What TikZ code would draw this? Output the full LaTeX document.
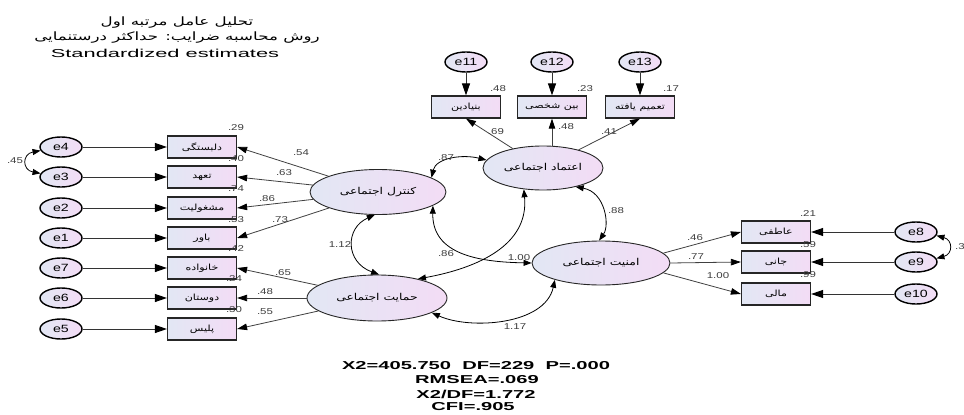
\documentclass[tikz,border=0pt]{standalone}
\usepackage{graphicx}
\usepackage{fontspec}
\setmainfont{Liberation Sans}
\newfontfamily\fafont[Script=Arabic]{DejaVu Sans}
\TeXXeTstate=1
\usetikzlibrary{arrows.meta,shapes.geometric}
\definecolor{shL}{RGB}{226,231,244}
\definecolor{shR}{RGB}{243,220,245}
\definecolor{lab}{RGB}{60,60,60}
\newcommand\fa[2]{\scalebox{#1}[1]{\fafont #2}}
\newcommand\la[2]{\scalebox{#1}[1]{#2}}
\begin{document}
\begin{tikzpicture}[x=1pt,y=-1pt,
  errn/.style={ellipse, draw=black, line width=1.4pt, left color=shL, right color=shR,
    minimum width=42pt, minimum height=20pt, inner sep=0pt, font=\fontsize{10.5}{10.5}\selectfont},
  obsn/.style={rectangle, draw=black!85, line width=1.2pt, left color=shL, right color=shR,
    minimum width=69pt, minimum height=22pt, inner sep=0pt, font=\fontsize{8.5}{9}\selectfont},
  latn/.style={ellipse, draw=black!85, line width=0.9pt, left color=shL, right color=shR,
    inner sep=0pt, font=\fontsize{9.5}{10}\selectfont},
  ld/.style={draw=black!75, line width=0.8pt, -{Triangle[length=10pt,width=6.5pt,color=black]}},
  ea/.style={draw=black!80, line width=1pt, -{Triangle[length=12pt,width=8pt,color=black]}},
  cov/.style={draw=black, line width=0.8pt, {Triangle[length=8pt,width=6pt]}-{Triangle[length=8pt,width=6pt]}},
  num/.style={font=\fontsize{8.5}{9}\selectfont, text=lab, inner sep=0pt},
  ttl/.style={font=\fontsize{11.5}{11.5}\selectfont, inner sep=0pt},
  fit/.style={font=\fontsize{11.5}{12}\bfseries\selectfont, inner sep=0pt}]
\useasboundingbox (0,0) rectangle (964,415);

% titles
\node[ttl] (ttl1) at (177,23) {\fa{1.45}{\beginR تحلیل عامل مرتبه اول\endR}};
\node[ttl] (ttl2) at (177,38) {\fa{1.45}{\beginR روش محاسبه ضرایب: حداکثر درستنمایی\endR}};
\node[ttl] (ttl3) at (165,53) {\la{1.9}{Standardized estimates}};

% latent factors
\node[latn, minimum width=136pt, minimum height=45pt] (ctrl) at (378,192) {\fa{1.3}{\beginR کنترل اجتماعی\endR}};
\node[latn, minimum width=120pt, minimum height=44pt] (trust) at (543,168) {\fa{1.3}{\beginR اعتماد اجتماعی\endR}};
\node[latn, minimum width=138pt, minimum height=44pt] (sec) at (601,263) {\fa{1.3}{\beginR امنیت اجتماعی\endR}};
\node[latn, minimum width=140pt, minimum height=46pt] (sup) at (377,298) {\fa{1.3}{\beginR حمایت اجتماعی\endR}};

% left observed
\node[obsn] (b1) at (202,147) {\fa{1.3}{\beginR دلبستگی\endR}};
\node[obsn] (b2) at (202,177) {\fa{1.3}{\beginR تعهد\endR}};
\node[obsn] (b3) at (202,208) {\fa{1.3}{\beginR مشغولیت\endR}};
\node[obsn] (b4) at (202,238) {\fa{1.3}{\beginR باور\endR}};
\node[obsn] (b5) at (202,268) {\fa{1.3}{\beginR خانواده\endR}};
\node[obsn] (b6) at (202,298) {\fa{1.3}{\beginR دوستان\endR}};
\node[obsn] (b7) at (202,329) {\fa{1.3}{\beginR پلیس\endR}};
\node[errn] (e4) at (61,147) {\la{1.35}{e4}};
\node[errn] (e3) at (61,177) {\la{1.35}{e3}};
\node[errn] (e2) at (61,208) {\la{1.35}{e2}};
\node[errn] (e1) at (61,238) {\la{1.35}{e1}};
\node[errn] (e7) at (61,268) {\la{1.35}{e7}};
\node[errn] (e6) at (61,298) {\la{1.35}{e6}};
\node[errn] (e5) at (61,329) {\la{1.35}{e5}};
\foreach \e/\b in {e4/b1,e3/b2,e2/b3,e1/b4,e7/b5,e6/b6,e5/b7} \draw[ea] (\e) -- (\b);

% top observed
\node[obsn] (t1n) at (466,107) {\fa{1.3}{\beginR بنیادین\endR}};
\node[obsn] (t2n) at (552,107) {\fa{1.3}{\beginR بین شخصی\endR}};
\node[obsn] (t3n) at (640,107) {\fa{1.3}{\beginR تعمیم یافته\endR}};
\node[errn] (e11) at (466,62) {\la{1.35}{e11}};
\node[errn] (e12) at (552,62) {\la{1.35}{e12}};
\node[errn] (e13) at (640,62) {\la{1.35}{e13}};
\foreach \e/\b in {e11/t1n,e12/t2n,e13/t3n} \draw[ea] (\e) -- (\b);

% right observed
\node[obsn] (r1) at (776,232) {\fa{1.3}{\beginR عاطفی\endR}};
\node[obsn] (r2) at (776,262) {\fa{1.3}{\beginR جانی\endR}};
\node[obsn] (r3) at (776,294) {\fa{1.3}{\beginR مالی\endR}};
\node[errn] (e8) at (916,232) {\la{1.35}{e8}};
\node[errn] (e9) at (916,262) {\la{1.35}{e9}};
\node[errn] (e10) at (916,294) {\la{1.35}{e10}};
\foreach \e/\b in {e8/r1,e9/r2,e10/r3} \draw[ea] (\e) -- (\b);

% loadings
\foreach \b in {b1,b2,b3,b4} \draw[ld] (ctrl) -- (\b.east);
\foreach \b in {b5,b6,b7} \draw[ld] (sup) -- (\b.east);
\draw[ld] (trust) -- (t1n.south);
\draw[ld] (trust.north -| t2n.south) -- (t2n.south);
\draw[ld] (trust) -- (t3n.south);
\draw[ld] (sec.9) -- (r1.west);
\draw[ld] (sec.east) -- (r2.west);
\draw[ld] (sec.-9) -- (r3.west);

% covariances
\draw[cov] (e4.190) .. controls (22,154) and (22,170) .. (e3.170);
\draw[cov] (e8.-10) .. controls (953,240) and (953,254) .. (e9.10);
\draw[cov] (ctrl.15) .. controls (436,158) and (462,154) .. (trust.172);
\draw[cov] (ctrl.-14) .. controls (432,255) and (480,262) .. (sec.west);
\draw[cov] (trust.228) .. controls (529,245) and (478,268) .. (sup.25);
\draw[cov] (trust.-30) .. controls (605,192) and (610,225) .. (sec.95);
\draw[cov] (ctrl.262) .. controls (345,228) and (345,262) .. (sup.85);
\draw[cov] (sup.-15) .. controls (470,330) and (545,325) .. (sec.200);

% numbers: R squared
\node[num] (q1) at (236,128) {\la{1.35}{.29}};
\node[num] (q2) at (236,159) {\la{1.35}{.40}};
\node[num] (q3) at (236,189) {\la{1.35}{.74}};
\node[num] (q4) at (236,220) {\la{1.35}{.53}};
\node[num] (q5) at (236,249) {\la{1.35}{.42}};
\node[num] (q6) at (234,279) {\la{1.35}{.24}};
\node[num] (q7) at (234,310) {\la{1.35}{.30}};
\node[num] (q8) at (498,89) {\la{1.35}{.48}};
\node[num] (q9) at (585,89) {\la{1.35}{.23}};
\node[num] (q10) at (671,89) {\la{1.35}{.17}};
\node[num] (q11) at (808,214) {\la{1.35}{.21}};
\node[num] (q12) at (808,245) {\la{1.35}{.59}};
\node[num] (q13) at (808,275) {\la{1.35}{.99}};
% loadings
\node[num] (l1) at (301,153) {\la{1.35}{.54}};
\node[num] (l2) at (284,173) {\la{1.35}{.63}};
\node[num] (l3) at (267,199) {\la{1.35}{.86}};
\node[num] (l4) at (280,220) {\la{1.35}{.73}};
\node[num] (l5) at (283,273) {\la{1.35}{.65}};
\node[num] (l6) at (265,292) {\la{1.35}{.48}};
\node[num] (l7) at (265,312) {\la{1.35}{.55}};
\node[num] (l8) at (496,132) {\la{1.35}{.69}};
\node[num] (l9) at (566,127) {\la{1.35}{.48}};
\node[num] (l10) at (609,132) {\la{1.35}{.41}};
\node[num] (l11) at (695,238) {\la{1.35}{.46}};
\node[num] (l12) at (696,257) {\la{1.35}{.77}};
\node[num] (l13) at (718,276) {\la{1.35}{1.00}};
% covariances
\node[num] (c1) at (15,161) {\la{1.35}{.45}};
\node[num] (c2) at (960,247) {\la{1.35}{.3}};
\node[num] (c3) at (446,158) {\la{1.35}{.87}};
\node[num] (c4) at (446,254) {\la{1.35}{.86}};
\node[num] (c5) at (519,258) {\la{1.35}{1.00}};
\node[num] (c6) at (616,211) {\la{1.35}{.88}};
\node[num] (c7) at (340,245) {\la{1.35}{1.12}};
\node[num] (c8) at (515,327) {\la{1.35}{1.17}};

% fit indices
\node[fit] (f1) at (476,366) {\la{1.75}{X2=405.750\ \ DF=229\ \ P=.000}};
\node[fit] (f2) at (477,380) {\la{1.75}{RMSEA=.069}};
\node[fit] (f3) at (476,394) {\la{1.75}{X2/DF=1.772}};
\node[fit] (f4) at (473,407) {\la{1.75}{CFI=.905}};
\end{tikzpicture}
\end{document}
